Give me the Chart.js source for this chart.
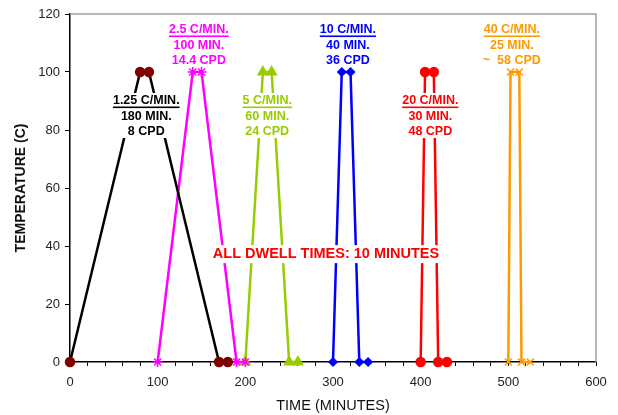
<!DOCTYPE html>
<html>
<head>
<meta charset="utf-8">
<script src="https://cdn.jsdelivr.net/npm/chart.js@4.4.0/dist/chart.umd.min.js"></script>
<style>
  body { margin: 0; background: #fff; }
</style>
</head>
<body>
<canvas id="myChart" width="618" height="415"></canvas>
<script>
// one thermal cycle per ramp rate: ramp up, dwell, ramp down, dwell
let rateNames = ["1.25 C/MIN.", "2.5 C/MIN.", "5 C/MIN.", "10 C/MIN.", "20 C/MIN.", "40 C/MIN."];
let cycleNames = ["180 MIN.", "100 MIN.", "60 MIN.", "40 MIN.", "30 MIN.", "25 MIN."];
let cpdNames = ["8 CPD", "14.4 CPD", "24 CPD", "36 CPD", "48 CPD", "~  58 CPD"];
let cycleTimes = [
  [0, 80, 90, 170, 180],
  [100, 140, 150, 190, 200],
  [200, 220, 230, 250, 260],
  [300, 310, 320, 330, 340],
  [400, 405, 415, 420, 430],
  [500, 502.5, 512.5, 515, 525]
];
let cycleTemps = [0, 100, 100, 0, 0];
let xTicks = [0, 100, 200, 300, 400, 500, 600];
let yTicks = [0, 20, 40, 60, 80, 100, 120];

// where each rate's label block sits (in axis units)
let labelX = [87, 147, 225, 317, 411, 504];
let labelY = [90, 114.5, 90, 114.5, 90, 114.5];
let dwellNote = "ALL DWELL TIMES: 10 MINUTES";

let lineColors = ["#000000", "#ff00ff", "#99cc00", "#0000ff", "#ff0000", "#ff9900"];
let markerColors = ["#800000", "#ff00ff", "#99cc00", "#0000ff", "#ff0000", "#ff9900"];
let markerShapes = ["circle", "star", "triangle", "rectRot", "circle", "crossRot"];
let markerSizes = [4.5, 5, 5.5, 4, 4.5, 5];
let textColors = ["#000000", "#ff00ff", "#99cc00", "#0000ff", "#ff0000", "#ff9900"];

const FONT = "'Liberation Sans', Arial, sans-serif";

let datasets = cycleTimes.map(function(times, i) {
  return {
    label: rateNames[i],
    data: times.map(function(t, j) { return { x: t, y: cycleTemps[j] }; }),
    showLine: true,
    borderColor: lineColors[i],
    borderWidth: 2.5,
    pointStyle: markerShapes[i],
    pointRadius: markerSizes[i],
    pointBackgroundColor: markerColors[i],
    pointBorderColor: markerColors[i],
    pointBorderWidth: 1.5,
    clip: false
  };
});

// gray frame on top/right plus the text annotations (on white boxes)
let annotations = {
  id: "annotations",
  beforeDatasetsDraw(chart) {
    let ctx = chart.ctx;
    let a = chart.chartArea;
    ctx.save();
    ctx.strokeStyle = "#a0a0a0";
    ctx.lineWidth = 1.5;
    ctx.beginPath();
    ctx.moveTo(a.left, a.top);
    ctx.lineTo(a.right, a.top);
    ctx.lineTo(a.right, a.bottom);
    ctx.stroke();
    ctx.restore();
  },
  afterDatasetsDraw(chart) {
    let ctx = chart.ctx;
    let xs = chart.scales.x;
    let ys = chart.scales.y;
    ctx.save();
    ctx.textAlign = "center";
    ctx.textBaseline = "middle";
    ctx.font = "bold 12.5px " + FONT;
    for (let i = 0; i < rateNames.length; i++) {
      let px = xs.getPixelForValue(labelX[i]);
      let py = ys.getPixelForValue(labelY[i]);
      let lines = [rateNames[i], cycleNames[i], cpdNames[i]];
      let boxW = Math.max.apply(null, lines.map(function(s) { return ctx.measureText(s).width; })) + 4;
      ctx.fillStyle = "#fff";
      ctx.fillRect(px - boxW / 2, py - 8, boxW, 31 + 14);
      ctx.fillStyle = textColors[i];
      ctx.fillText(lines[0], px, py);
      let w = ctx.measureText(lines[0]).width;
      ctx.fillRect(px - w / 2, py + 5.5, w, 1.6);
      ctx.fillText(lines[1], px, py + 15.5);
      ctx.fillText(lines[2], px, py + 31);
    }
    ctx.font = "bold 14.5px " + FONT;
    let nx = xs.getPixelForValue(292);
    let ny = ys.getPixelForValue(37.2);
    let nw = ctx.measureText(dwellNote).width + 4;
    ctx.fillStyle = "#fff";
    ctx.fillRect(nx - nw / 2, ny - 9, nw, 18);
    ctx.fillStyle = "#ff0000";
    ctx.fillText(dwellNote, nx, ny);
    ctx.restore();
  }
};

new Chart("myChart", {
  type: "scatter",
  data: { datasets: datasets },
  plugins: [annotations],
  options: {
    responsive: false,
    animation: false,
    layout: { padding: { top: 14, right: 22, left: 0, bottom: 0 } },
    plugins: {
      legend: { display: false },
      tooltip: { enabled: false }
    },
    scales: {
      x: {
        type: "linear",
        min: 0,
        max: 600,
        afterBuildTicks: function(scale) {
          let t = [];
          for (let v = 0; v <= 600; v += 20) t.push({ value: v });
          scale.ticks = t;
        },
        afterFit: function(scale) { scale.height = 53; },
        ticks: {
          autoSkip: false,
          maxRotation: 0,
          padding: 9,
          color: "#222",
          font: { family: FONT, size: 13 },
          callback: function(v) { return xTicks.indexOf(v) >= 0 ? String(v) : ""; }
        },
        grid: { drawOnChartArea: false, drawTicks: true, tickLength: 4, color: "#000", lineWidth: 1 },
        border: { display: true, color: "#000", width: 1.5 },
        title: {
          display: true,
          text: "TIME (MINUTES)",
          color: "#111",
          font: { family: FONT, size: 14.5 },
          padding: { top: 0, bottom: 0 }
        }
      },
      y: {
        type: "linear",
        min: 0,
        max: 120,
        afterBuildTicks: function(scale) {
          scale.ticks = yTicks.map(function(v) { return { value: v }; });
        },
        afterFit: function(scale) { scale.width = 70; },
        ticks: {
          padding: 5,
          color: "#222",
          font: { family: FONT, size: 13 }
        },
        grid: { drawOnChartArea: false, drawTicks: true, tickLength: 5, color: "#000", lineWidth: 1 },
        border: { display: true, color: "#000", width: 1.5 },
        title: {
          display: true,
          text: "TEMPERATURE (C)",
          color: "#111",
          font: { family: FONT, size: 14, weight: "bold" },
          padding: { top: 13, bottom: 0 }
        }
      }
    }
  }
});
</script>
</body>
</html>
